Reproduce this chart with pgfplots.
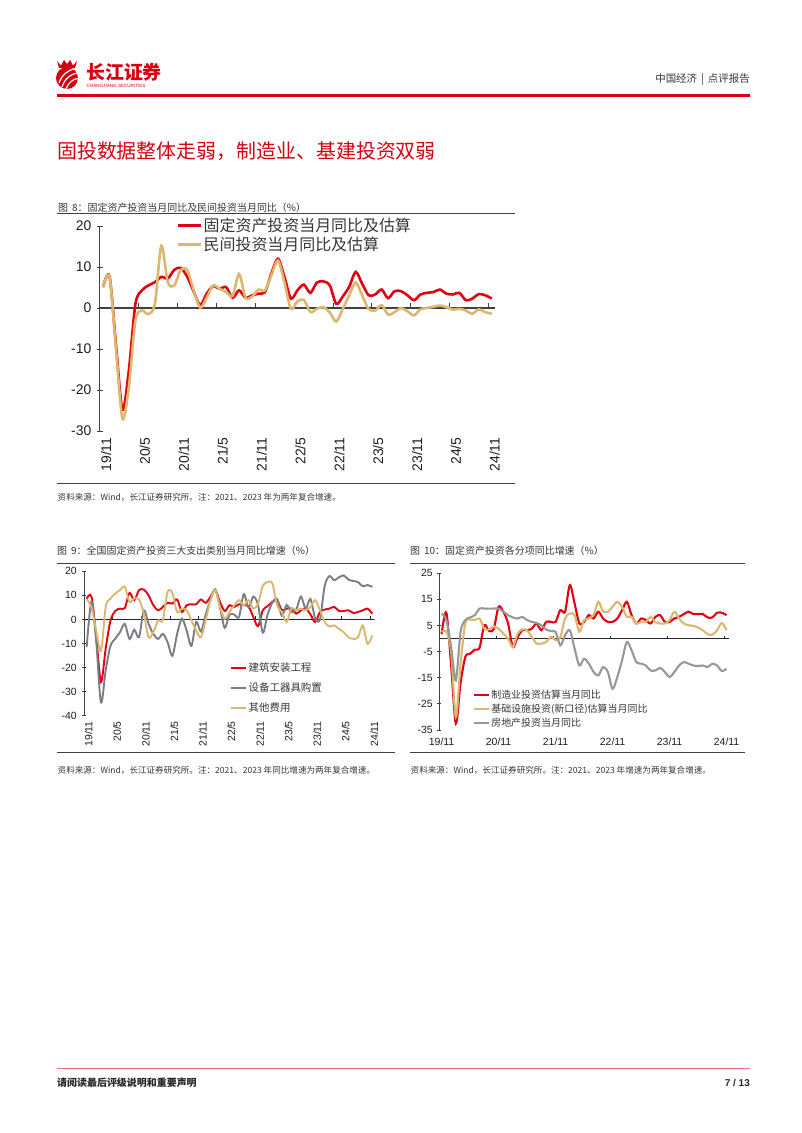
\documentclass[border=0pt]{standalone}
\usepackage{pgfplots}
\pgfplotsset{compat=1.18}
\usepackage{pgfplotstable}
\usepackage{fontspec}
\setmainfont{Liberation Sans}
\newfontfamily\cjk{Noto Sans CJK SC}
\definecolor{cjred}{RGB}{214,0,18}
\definecolor{lnred}{RGB}{226,0,18}
\definecolor{lntan}{RGB}{219,183,112}
\definecolor{lngrayb}{RGB}{122,126,132}
\definecolor{lngrayc}{RGB}{152,152,152}
\definecolor{axgray}{RGB}{64,64,64}
\definecolor{txtgray}{RGB}{55,55,55}

% Figure 8: i, FAI monthly yoy (a), private investment (b)
\pgfplotstableread{
i a b
0 5.1 5.0
1 7.7 7.6
2 -9 -10
3 -24.8 -27
4 -15 -19
5 1.0 -3
6 4.3 -0.6
7 5.5 -1.5
8 6.3 1.0
9 7.6 15.2
10 7.2 6.3
11 9.3 5.5
12 9.8 9.3
13 7.6 9.2
14 4.0 4.3
15 0.7 0.1
16 3.5 2.5
17 5.3 5.5
18 4.7 4.7
19 5.1 3.9
20 2.5 3.0
21 4.3 8.3
22 2.5 2.5
23 3.1 2.8
24 3.5 4.5
25 3.9 4.3
26 8.5 8.0
27 12.0 11.6
28 7.6 6.3
29 2.3 -0.2
30 4.3 1.6
31 5.7 2.0
32 3.7 -1.0
33 6.2 -0.2
34 6.5 0.2
35 5.5 -1.1
36 1.0 -3.3
37 2.8 -0.2
38 5.2 3.1
39 8.8 6.2
40 5.9 3.1
41 3.1 -0.3
42 3.3 -0.6
43 4.5 0.7
44 2.4 -1.6
45 4.1 -1.0
46 4.1 0.0
47 3.1 -0.8
48 1.9 -1.8
49 3.3 -0.3
50 3.7 0.0
51 3.9 0.3
52 4.5 0.6
53 3.5 0.2
54 3.3 -0.4
55 3.7 -0.2
56 1.9 -0.6
57 2.3 -1.4
58 3.4 -0.3
59 3.1 -1.0
60 2.3 -1.4
}\tabA

% Figure 9: construction (a), equipment (b), other (c)
\pgfplotstableread{
i a b c
0 8.6 -11.5 8.5
1 9.5 7.5 5.0
2 -7 -9 -4.6
3 -26 -34.5 -13
4 -12 -21 5.2
5 -0.5 -11 8.7
6 3.5 -8 10.8
7 4.5 -5.3 12.2
8 4.7 -1.8 13.6
9 11 -8.1 7.3
10 8 -4.3 8.7
11 12.2 -7.4 8.3
12 12.4 3.8 2.4
13 10 -1.8 -7.4
14 5.9 -6 -5.3
15 3.8 -8.1 -0.4
16 5.2 -6 -0.4
17 6.9 -9.5 11.5
18 6.6 -15.1 11
19 8.3 -6 3.1
20 3.1 0.3 4.5
21 5.9 -4.6 3.8
22 6.3 -11 -0.4
23 6.3 -1 -4.6
24 8.3 -5 -7.4
25 6.9 2 -0.4
26 9.4 8 8
27 12.2 12.5 12.2
28 7.3 5 5.2
29 3.5 -3.5 0.3
30 5.9 2 3.1
31 5.2 2 5.9
32 6.3 1 8
33 5.9 10.5 5.9
34 5.5 5 8
35 1.0 9.5 4.5
36 -2.8 6 6.6
37 3.8 -5.5 14
38 5.5 2 15.5
39 7.3 7 15
40 8 8.5 5.9
41 3.8 1.5 3.1
42 4.5 6 -1.1
43 4.5 3 4.5
44 2.4 4 3.8
45 3.8 9.5 4.5
46 4.5 4.5 3.8
47 2.1 8.5 5.2
48 -1.1 0.5 8
49 3.1 0 3.8
50 4.1 14 -1.1
51 4.5 18 -2.9
52 5.2 16.3 -2.5
53 3.5 17.5 -3.9
54 3.5 18.3 -5.3
55 3.8 16.5 -7.4
56 2.7 16 -8.1
57 3.1 15.5 -7.4
58 3.8 13.8 -2.5
59 4.5 14.3 -10.2
60 2.4 13.5 -6.7
}\tabB

% Figure 10: manufacturing (a), infrastructure (b), real estate (c)
\pgfplotstableread{
i a b c
0 1.7 2.6 9.6
1 10 2.6 7.1
2 -10 -5 -3
3 -32.5 -30 -16
4 -17 -9.6 2.6
5 -7 6 7.1
6 -5.8 7.3 8.1
7 -4.2 7.1 9.0
8 -3.5 7.7 11.5
9 5.1 3.8 11.5
10 2.9 3.5 11.5
11 3.8 4.7 11.5
12 12.2 3.8 11.5
13 10.3 1.9 10.3
14 5.8 0 9.0
15 -3.2 -3.2 8.1
16 0.5 1.9 7.7
17 3.2 3.5 8.3
18 3.2 3.2 7.1
19 3.8 0.6 6.4
20 5.8 -1.9 6.0
21 3.2 -1.9 5.1
22 6.4 -1.3 3.5
23 6.4 0.6 2.9
24 6.4 -0.6 2.6
25 10.9 0.5 -2.6
26 10.3 7.7 1.3
27 20.5 9.6 3.2
28 13.5 9.0 -3.8
29 5.8 2.6 -10.3
30 6.4 7.1 -7.7
31 9.0 7.7 -9.6
32 7.7 9.0 -12.8
33 10.3 14.1 -14.1
34 7.7 10.3 -10.9
35 6.4 10.3 -12.8
36 6.4 12.2 -19.2
37 7.7 14.1 -14.7
38 10.9 12.2 -8.3
39 14.1 8.3 -1.3
40 9.0 8.3 -4.5
41 5.8 5.8 -9.0
42 7.7 6.4 -9.6
43 7.1 6.4 -10.3
44 5.8 8.3 -12.2
45 8.3 6.4 -12.2
46 9.0 5.8 -11.2
47 6.4 5.8 -12.8
48 6.4 7.1 -14.7
49 7.7 10.3 -12.8
50 8.3 7.7 -10.3
51 9.4 5.8 -9.0
52 10.3 5.1 -9.6
53 9.4 4.9 -10.3
54 9.4 4.2 -10.5
55 9.4 3.2 -10.3
56 8.1 1.7 -10.9
57 8.1 1.5 -9.6
58 9.9 3.2 -10.3
59 9.9 6.0 -12.4
60 9.0 3.2 -11.5
}\tabC

\pgfplotsset{
  cjbase/.style={
    scale only axis,
    axis y line*=left, axis x line*=bottom,
    x axis line style={draw=none},
    xtick style={draw=none},
    y axis line style={axgray, line width=1bp},
    ytick style={axgray, line width=1bp},
    tick align=center,
    xmin=-0.5, xmax=60.5,
    /pgf/number format/assume math mode=true,
    tick label style={text=black!88},
    legend cell align=left,
  },
}

\begin{document}
\begin{tikzpicture}
\path[use as bounding box, fill=white] (0,0) rectangle (802bp,-1133bp);

\begin{scope}[x=1bp,y=-1bp]
% header logo
\fill[cjred] (67,78) circle (11bp);
\draw[white, line width=1.2bp] (59,83) .. controls (62,74) and (69,70) .. (75,68.5);
\draw[white, line width=1.2bp] (62,87) .. controls (65,78) and (71,74) .. (77.5,73);
\draw[white, line width=1.2bp] (66,89) .. controls (69,82) and (73,79) .. (78,78.5);
\fill[cjred] (57,61) -- (61,65.5) -- (64,60) -- (67,64) -- (70,60) -- (73,65.5) -- (77,61) -- (75,68) -- (59,68) -- cycle;
\node[anchor=west, inner sep=0, text=cjred, font=\cjk\bfseries\fontsize{19}{19}\selectfont] at (86,72.5) {长江证券};
\node[anchor=west, inner sep=0, text=cjred, font=\fontsize{4.6}{5}\selectfont] at (86.5,86) {CHANGJIANG SECURITIES};
\node[anchor=east, inner sep=0, text=txtgray, font=\cjk\fontsize{10.5}{10.5}\selectfont] at (750,80) {中国经济\hspace{4bp}|\hspace{4bp}点评报告};
\draw[cjred, line width=2.2bp] (57,95.5) -- (750,95.5);
% section title
\node[anchor=west, inner sep=0, text=cjred, font=\cjk\fontsize{20}{20}\selectfont] at (57,151) {固投数据整体走弱，制造业、基建投资双弱};

% figure 8 frame
\node[anchor=west, inner sep=0, text=txtgray, font=\cjk\fontsize{10}{10}\selectfont] at (58,207.5) {图\hspace{4bp}8：固定资产投资当月同比及民间投资当月同比（\%）};
\draw[axgray, line width=1.3bp] (57,213.5) -- (515,213.5);
\draw[axgray, line width=1.3bp] (57,483.5) -- (515,483.5);
\node[anchor=west, inner sep=0, text=txtgray, font=\cjk\fontsize{8.6}{8.6}\selectfont] at (57.5,497) {资料来源：Wind，长江证券研究所。注：2021、2023 年为两年复合增速。};

% figure 9 frame
\node[anchor=west, inner sep=0, text=txtgray, font=\cjk\fontsize{10}{10}\selectfont] at (57,551) {图\hspace{4bp}9：全国固定资产投资三大支出类别当月同比增速（\%）};
\draw[axgray, line width=1.3bp] (57,563.5) -- (395,563.5);
\draw[axgray, line width=1.3bp] (57,752.5) -- (395,752.5);
\node[anchor=west, inner sep=0, text=txtgray, font=\cjk\fontsize{8.6}{8.6}\selectfont] at (57.5,770) {资料来源：Wind，长江证券研究所。注：2021、2023 年同比增速为两年复合增速。};

% figure 10 frame
\node[anchor=west, inner sep=0, text=txtgray, font=\cjk\fontsize{10}{10}\selectfont] at (410,551) {图\hspace{4bp}10：固定资产投资各分项同比增速（\%）};
\draw[axgray, line width=1.3bp] (410,563.5) -- (745,563.5);
\draw[axgray, line width=1.3bp] (410,752.5) -- (745,752.5);
\node[anchor=west, inner sep=0, text=txtgray, font=\cjk\fontsize{8.6}{8.6}\selectfont] at (410.5,770) {资料来源：Wind，长江证券研究所。注：2021、2023 年增速为两年复合增速。};

% footer
\draw[cjred!55, line width=0.6bp] (57,1068) -- (750,1068);
\node[anchor=west, inner sep=0, text=black!85, font=\cjk\bfseries\fontsize{10}{10}\selectfont] at (57,1083) {请阅读最后评级说明和重要声明};
\node[anchor=east, inner sep=0, text=black!85, font=\bfseries\fontsize{10}{10}\selectfont] at (750,1083) {7 / 13};
\end{scope}

% ---------------- Figure 8 ----------------
\begin{axis}[cjbase,
  at={(99.8bp,-431bp)}, anchor=south west,
  width=395.2bp, height=205bp,
  ymin=-30, ymax=20, ytick={-30,-20,...,20},
  major tick length=6bp,
  xtick={0,6,...,60},
  xticklabels={19/11,20/5,20/11,21/5,21/11,22/5,22/11,23/5,23/11,24/5,24/11},
  yticklabel style={font=\fontsize{14}{14}\selectfont, xshift=-2bp},
  xticklabel style={rotate=90, anchor=east, font=\fontsize{14}{14}\selectfont, yshift=-3bp},
  legend image code/.code={\draw[#1] (0bp,0bp) -- (23bp,0bp);},
  legend style={at={(0.1946,1.045)}, anchor=north west, draw=none, fill=none,
    font=\cjk\fontsize{16}{17}\selectfont, inner sep=0pt, row sep=1.5bp,
    nodes={inner sep=1.2bp, text=txtgray}},
]
\addplot[forget plot, axgray, line width=1.2bp] coordinates {(-0.5,0) (60.5,0)};
\pgfplotsinvokeforeach{5.5,11.5,17.5,23.5,29.5,35.5,41.5,47.5,53.5,59.5}{
  \draw[axgray, line width=1bp] (axis cs:#1,0) -- ([yshift=5bp]axis cs:#1,0);
}
\addplot[lnred, line width=2.6bp, smooth, tension=0.5] table[x=i,y=a]{\tabA};
\addplot[lntan, line width=2.6bp, smooth, tension=0.5] table[x=i,y=b]{\tabA};
\legend{固定资产投资当月同比及估算, 民间投资当月同比及估算}
\end{axis}

% ---------------- Figure 9 ----------------
\begin{axis}[cjbase,
  at={(84.3bp,-715.7bp)}, anchor=south west,
  width=290.4bp, height=144.4bp,
  ymin=-40, ymax=20, ytick={-40,-30,...,20},
  major tick length=4bp,
  xtick={0,6,...,60},
  xticklabels={19/11,20/5,20/11,21/5,21/11,22/5,22/11,23/5,23/11,24/5,24/11},
  yticklabel style={font=\fontsize{10.5}{10.5}\selectfont, xshift=-2bp},
  xticklabel style={rotate=90, anchor=east, font=\fontsize{10.5}{10.5}\selectfont, yshift=-2bp},
  legend image code/.code={\draw[#1] (0bp,0bp) -- (15bp,0bp);},
  legend style={at={(0.502,0.38)}, anchor=north west, draw=none, fill=none,
    font=\cjk\fontsize{10.5}{11}\selectfont, inner sep=0pt, row sep=7bp,
    nodes={inner sep=1.5bp, text=txtgray}},
]
\addplot[forget plot, black!85, line width=1.1bp] coordinates {(-0.5,0) (60.5,0)};
\pgfplotsinvokeforeach{5.5,11.5,17.5,23.5,29.5,35.5,41.5,47.5,53.5,59.5}{
  \draw[black!85, line width=0.8bp] (axis cs:#1,0) -- ([yshift=3bp]axis cs:#1,0);
}
\addplot[lnred, line width=1.9bp, smooth, tension=0.5] table[x=i,y=a]{\tabB};
\addplot[lngrayb, line width=1.9bp, smooth, tension=0.5] table[x=i,y=b]{\tabB};
\addplot[lntan, line width=1.9bp, smooth, tension=0.5] table[x=i,y=c]{\tabB};
\legend{建筑安装工程, 设备工器具购置, 其他费用}
\end{axis}

% ---------------- Figure 10 ----------------
\begin{axis}[cjbase,
  at={(439.2bp,-730bp)}, anchor=south west,
  width=289.75bp, height=156.7bp,
  ymin=-35, ymax=25, ytick={-35,-25,...,25},
  major tick length=4bp,
  xtick={0,12,...,60},
  xticklabels={19/11,20/11,21/11,22/11,23/11,24/11},
  yticklabel style={font=\fontsize{10.5}{10.5}\selectfont, xshift=-1bp},
  xticklabel style={font=\fontsize{10.5}{10.5}\selectfont, yshift=-2bp},
  legend image code/.code={\draw[#1] (0bp,0bp) -- (15bp,0bp);},
  legend style={at={(0.116,0.265)}, anchor=north west, draw=none, fill=none,
    font=\cjk\fontsize{10}{10.5}\selectfont, inner sep=0pt, row sep=1.8bp,
    nodes={inner sep=1.2bp, text=txtgray}},
]
\addplot[forget plot, black!85, line width=1.1bp] coordinates {(-0.5,0) (60.5,0)};
\pgfplotsinvokeforeach{11.5,23.5,35.5,47.5,59.5}{
  \draw[black!85, line width=0.8bp] (axis cs:#1,0) -- ([yshift=3bp]axis cs:#1,0);
}
\addplot[lnred, line width=2.1bp, smooth, tension=0.5] table[x=i,y=a]{\tabC};
\addplot[lntan, line width=2.1bp, smooth, tension=0.5] table[x=i,y=b]{\tabC};
\addplot[lngrayc, line width=2.1bp, smooth, tension=0.5] table[x=i,y=c]{\tabC};
\legend{制造业投资估算当月同比, 基础设施投资(新口径)估算当月同比, 房地产投资当月同比}
\end{axis}
\end{tikzpicture}
\end{document}
